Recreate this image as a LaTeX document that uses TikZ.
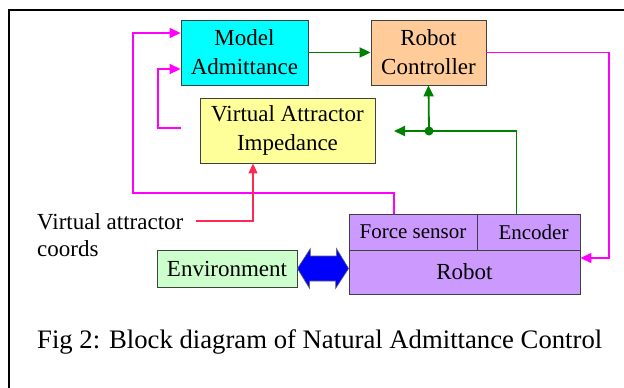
\documentclass[tikz,border=0pt]{standalone}
\usepackage{fontspec}
\setmainfont{Liberation Serif}
\usetikzlibrary{arrows.meta}
\definecolor{admcyan}{RGB}{0,255,255}
\definecolor{ctrlpeach}{RGB}{255,204,153}
\definecolor{vaiyellow}{RGB}{255,255,153}
\definecolor{robotlilac}{RGB}{204,153,255}
\definecolor{envgreen}{RGB}{204,255,204}
\definecolor{sigmagenta}{RGB}{255,0,255}
\definecolor{siggreen}{RGB}{0,128,0}
\definecolor{sigred}{RGB}{255,40,80}

\begin{document}
\begin{tikzpicture}[x=1pt,y=-1pt,
  block/.style={draw=black!75,line width=0.8pt,inner sep=0pt,align=center,font=\fontsize{23}{29}\selectfont},
  cell/.style={block,font=\fontsize{21}{25}\selectfont},
  gline/.style={draw=siggreen,line width=1.8pt,-{Triangle[length=11pt,width=10pt]}},
  mline/.style={draw=sigmagenta,line width=1.4pt,-{Triangle[length=11pt,width=10pt]}},
  rline/.style={draw=sigred,line width=1.2pt,-{Triangle[length=10pt,width=9pt]}}]
\useasboundingbox (0,0) rectangle (624,388);
\draw[line width=2pt] (8.5,388) -- (8.5,10) -- (624,10);
% blocks
\node[block,fill=admcyan,minimum width=127pt,minimum height=65pt] (madm) at (244.5,52.5) {Model\\Admittance};
\node[block,fill=ctrlpeach,minimum width=115pt,minimum height=65pt] (rctrl) at (428.5,52.5) {Robot\\Controller};
\node[block,fill=vaiyellow,minimum width=175pt,minimum height=65pt] (vai) at (287.5,130.5) {Virtual Attractor\\Impedance};
\node[cell,fill=robotlilac,minimum width=128pt,minimum height=36pt] (fsens) at (413,232) {Force sensor};
\node[cell,fill=robotlilac,minimum width=103pt,minimum height=36pt] (enc) at (528.5,232) {\hspace*{10pt}Encoder};
\node[block,fill=robotlilac,minimum width=231pt,minimum height=44pt] (robot) at (464.5,272) {Robot};
\node[block,fill=envgreen,minimum width=140pt,minimum height=37pt] (env) at (227,268.5) {Environment};
\node[anchor=west,align=left,inner sep=0pt,font=\fontsize{23}{27}\selectfont] (valabel) at (37,235) {Virtual attractor\\coords};
\node[anchor=base west,inner sep=0pt,font=\fontsize{26.7}{32}\selectfont] (caption) at (37,348) {Fig 2: Block diagram of Natural Admittance Control};
% helper points
\coordinate (vaiout) at (181,128);
\coordinate (vacoord) at (196,221);
\coordinate (junc) at (429,131);
\coordinate (vaiin) at (394,131);
\coordinate (rcright) at (609,258);
% green signals
\draw[gline] (madm.east) -- (rctrl.west);
\draw[siggreen,line width=1.8pt] ([xshift=-12pt]enc.north) |- (junc);
\draw[gline] (junc) -- (rctrl.south);
\draw[gline] (junc) -- (vaiin);
\fill[siggreen] (junc) circle (4.5pt);
% magenta signals
\draw[mline] (rctrl.east) -| (rcright) -- ([yshift=14pt]robot.east);
\draw[mline] ([xshift=-19pt]fsens.north) |- (133,193) |- ([yshift=19.5pt]madm.west);
\draw[mline] (vaiout) -- ++(-23,0) |- ([yshift=-16.5pt]madm.west);
% red input
\draw[rline] (vacoord) -| ([xshift=-34.5pt]vai.south);
% environment link
\filldraw[fill=blue,draw=black!60,line width=0.6pt] (env.east) -- ++(13,-20) -- ++(0,7.5) -- ++(26,0) -- ++(0,-7.5)
  -- (robot.west |- env.east) -- ++(-13,20) -- ++(0,-7.5) -- ++(-26,0) -- ++(0,7.5) -- cycle;
\end{tikzpicture}
\end{document}
